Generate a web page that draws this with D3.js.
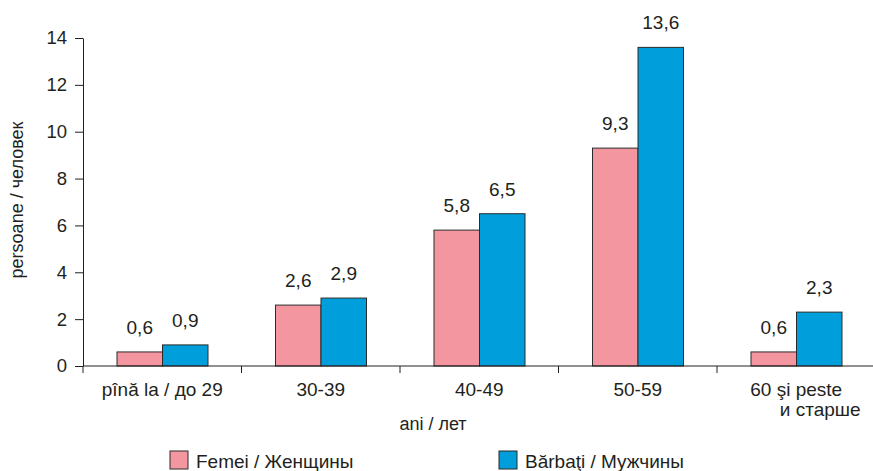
<!DOCTYPE html>
<html><head><meta charset="utf-8">
<script src="https://cdn.jsdelivr.net/npm/d3@7"></script>
<style>body{margin:0;background:#fff}svg{display:block;font-family:"Liberation Sans",Arial,sans-serif}</style>
</head><body><svg id="c" width="873" height="471"></svg>
<script>
const categories = ["pînă la / до 29","30-39","40-49","50-59","60 şi peste|и старше"];
const seriesNames = ["Femei / Женщины","Bărbaţi / Мужчины"];
const femei = [0.6,2.6,5.8,9.3,0.6];
const barbati = [0.9,2.9,6.5,13.6,2.3];
const yTicks = [0,2,4,6,8,10,12,14];
const colors = ["#F4969F","#009FDB"];

const svg = d3.select("#c");
const ff = "Liberation Sans, Arial, sans-serif";
const x0 = 83, x1 = 875.5, yTop = 38, yBot = 366;
const x = d3.scaleBand().domain(categories).range([x0,x1]).padding(0);
const xs = d3.scaleBand().domain([0,1]).range([34, x.bandwidth()-33.5]).padding(0);
const y = d3.scaleLinear().domain([0,14]).range([yBot,yTop]);

const data = categories.map((c,i)=>({c, v:[femei[i],barbati[i]]}));

// y axis
const ya = svg.append("g").attr("transform",`translate(${x0},0)`)
  .call(d3.axisLeft(y).tickValues(yTicks).tickSize(8).tickSizeOuter(0).tickPadding(8).tickFormat(d3.format("d")));
ya.selectAll("text").attr("font-size",18.5).attr("fill","#231f20").attr("font-family",ff);
ya.selectAll("line,path").attr("stroke","#231f20");

// bars
const g = svg.append("g");
data.forEach(d=>{
  d.v.forEach((v,j)=>{
    const bx = x(d.c)+xs(j);
    g.append("rect").attr("x",bx).attr("y",y(v)).attr("width",xs.bandwidth()).attr("height",y(0)-y(v))
      .attr("fill",colors[j]).attr("stroke","#2b2b2b").attr("stroke-width",1);
    g.append("text").attr("x",bx+xs.bandwidth()/2).attr("y",y(v)-18).attr("text-anchor","middle")
      .attr("font-size",19).attr("fill","#231f20").text(d3.format(".1f")(v).replace(".",","));
  });
});

// x axis
const xa = svg.append("g").attr("transform",`translate(0,${yBot})`);
xa.append("line").attr("x1",x0).attr("x2",873).attr("stroke","#231f20");
categories.forEach(c=>{
  xa.append("line").attr("x1",x(c)).attr("x2",x(c)).attr("y1",0).attr("y2",7).attr("stroke","#231f20");
  const parts = c.split("|");
  const cx = x(c)+x.bandwidth()/2;
  const t = xa.append("text").attr("text-anchor","middle").attr("font-size",19).attr("fill","#231f20");
  t.append("tspan").attr("x",cx).attr("y",30).text(parts[0]);
  if(parts[1]) t.append("tspan").attr("x",cx+24).attr("y",50).text(parts[1]);
});
svg.append("text").attr("x",433).attr("y",430).attr("text-anchor","middle").attr("font-size",18).attr("fill","#231f20").text("ani / лет");
svg.append("text").attr("transform","translate(23,200) rotate(-90)").attr("text-anchor","middle").attr("font-size",18).attr("fill","#231f20").text("persoane / человек");

// legend
const lx = [170,499];
seriesNames.forEach((s,j)=>{
  svg.append("rect").attr("x",lx[j]).attr("y",451).attr("width",18).attr("height",18).attr("fill",colors[j]).attr("stroke","#2b2b2b");
  svg.append("text").attr("x",lx[j]+26).attr("y",468).attr("font-size",19).attr("fill","#231f20").text(s);
});
</script></body></html>
